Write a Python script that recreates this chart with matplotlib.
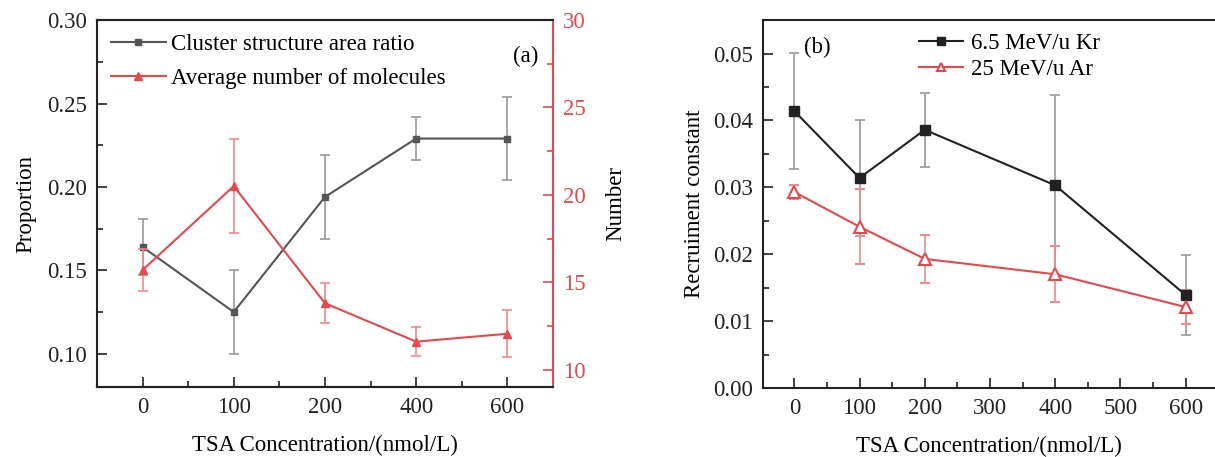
import matplotlib.pyplot as plt
from matplotlib.ticker import MultipleLocator

plt.rcParams['font.family'] = ['Liberation Serif', 'DejaVu Serif']
plt.rcParams['font.size'] = 16.5

# panel (a)
conc_a = ["0", "100", "200", "400", "600"]
area_ratio = [0.164, 0.125, 0.194, 0.229, 0.229]
area_ratio_err = [0.017, 0.025, 0.025, 0.013, 0.025]
mol_number = [15.7, 20.5, 13.8, 11.6, 12.05]
mol_number_err = [1.2, 2.7, 1.15, 0.85, 1.35]

# panel (b)
conc_b = [0, 100, 200, 400, 600]
kr_const = [0.0414, 0.0314, 0.0386, 0.0303, 0.0139]
kr_err = [0.0087, 0.0087, 0.0055, 0.0135, 0.006]
ar_const = [0.0293, 0.0241, 0.0193, 0.0170, 0.0121]
ar_err = [0.001, 0.0056, 0.0036, 0.0042, 0.0026]

gray = "#555555"
gray_err = "#9a9a9a"
red = "#e8474c"
red_err = "#f08a8d"
spine_c = "#222222"

fig = plt.figure(figsize=(12.15, 4.57), dpi=100)
ax1 = fig.add_axes([0.0798, 0.153, 0.3753, 0.803])
ax2 = ax1.twinx()
axb = fig.add_axes([0.628, 0.151, 0.372, 0.805])

xa = range(len(conc_a))
c1 = ax1.errorbar(xa, area_ratio, yerr=area_ratio_err, color=gray, ecolor=gray_err,
                  marker="s", ms=5, lw=1.5, elinewidth=1.2, capsize=3.5, capthick=1.2)
c2 = ax2.errorbar(xa, mol_number, yerr=mol_number_err, color=red, ecolor=red_err,
                  marker="^", ms=6, lw=1.5, elinewidth=1.2, capsize=3.5, capthick=1.2)

ax1.set_xlim(-0.5, 4.5)
ax1.set_ylim(0.08, 0.30)
ax2.set_ylim(9, 30)
ax1.set_xticks(list(xa))
ax1.set_xticklabels(conc_a)
ax1.xaxis.set_minor_locator(MultipleLocator(0.5))
ax1.yaxis.set_major_locator(MultipleLocator(0.05))
ax1.yaxis.set_minor_locator(MultipleLocator(0.025))
ax1.yaxis.set_major_formatter(lambda v, p: f"{v:.2f}")
ax2.yaxis.set_major_locator(MultipleLocator(5))
ax2.yaxis.set_minor_locator(MultipleLocator(2.5))

for ax in (ax1, ax2, axb):
    for s in ax.spines.values():
        s.set_linewidth(1.5)
        s.set_color(spine_c)
    ax.tick_params(which="both", direction="in", width=1.2, colors=spine_c, labelcolor="#222222")
    ax.tick_params(which="major", length=7, pad=7)
    ax.tick_params(which="minor", length=4)

ax2.spines["right"].set_color(red)
ax2.tick_params(axis="y", which="both", colors=red, labelcolor=red)
ax2.spines["left"].set_visible(False)
ax1.spines["right"].set_visible(False)

ax1.set_xlabel("TSA Concentration/(nmol/L)", labelpad=12)
ax1.set_ylabel("Proportion", labelpad=8)
ax2.set_ylabel("Number", labelpad=14)
ax1.text(0.94, 0.9, "(a)", transform=ax1.transAxes, ha="center", va="center")

ax2.legend([c1[0], c2[0]], ["Cluster structure area ratio", "Average number of molecules"],
           loc="upper left", bbox_to_anchor=(0.0, 1.0), frameon=False, handlelength=2.4,
           handletextpad=0.25, labelspacing=0.55, borderaxespad=0.4, borderpad=0.2)

# panel (b)
k = axb.errorbar(conc_b, kr_const, yerr=kr_err, color="#222222", ecolor=gray_err,
                 marker="s", ms=7, lw=1.5, elinewidth=1.2, capsize=3.5, capthick=1.2)
a = axb.errorbar(conc_b, ar_const, yerr=ar_err, color=red, ecolor=red_err,
                 marker="^", ms=8, mfc="white", mec=red, mew=1.5, lw=1.5,
                 elinewidth=1.2, capsize=3.5, capthick=1.2)
axb.set_xlim(-48, 645)
axb.set_ylim(0, 0.055)
axb.xaxis.set_major_locator(MultipleLocator(100))
axb.xaxis.set_minor_locator(MultipleLocator(50))
axb.yaxis.set_major_locator(MultipleLocator(0.01))
axb.yaxis.set_minor_locator(MultipleLocator(0.005))
axb.yaxis.set_major_formatter(lambda v, p: f"{v:.2f}")
axb.spines["right"].set_visible(False)
axb.set_xlabel("TSA Concentration/(nmol/L)", labelpad=12)
axb.set_ylabel("Recruiment constant", labelpad=6)
axb.text(0.12, 0.925, "(b)", transform=axb.transAxes, ha="center", va="center")
axb.legend([k[0], a[0]], ["6.5 MeV/u Kr", "25 MeV/u Ar"], loc="upper left",
           bbox_to_anchor=(0.3, 1.02), frameon=False, handlelength=1.9, markerscale=0.75,
           handletextpad=0.35, labelspacing=0.2)

fig.savefig("out.png", dpi=100)
